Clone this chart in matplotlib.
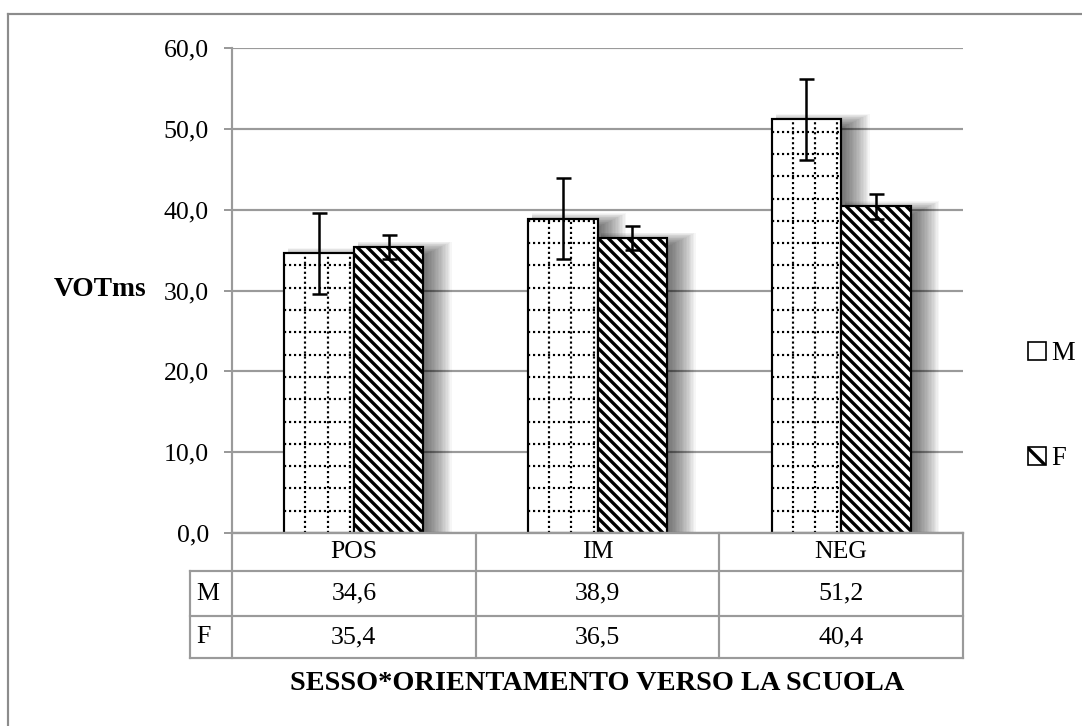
import numpy as np
import matplotlib
matplotlib.use('Agg')
import matplotlib.pyplot as plt
from matplotlib.patches import Patch
from matplotlib.lines import Line2D

categories = ['POS', 'IM', 'NEG']
series = ['M', 'F']
m_values = [34.6, 38.9, 51.2]
f_values = [35.4, 36.5, 40.4]
m_err = [5.0, 5.0, 5.0]
f_err = [1.5, 1.5, 1.5]
yticks = [0, 10, 20, 30, 40, 50, 60]

plt.rcParams['font.family'] = ['Liberation Serif', 'DejaVu Serif']
plt.rcParams['hatch.linewidth'] = 2.0
plt.rcParams['hatch.color'] = 'black'

DPI = 120
fig = plt.figure(figsize=(1082 / DPI, 726 / DPI), dpi=DPI)
ax = fig.add_axes([232 / 1082, 1 - 533 / 726, (963 - 232) / 1082, (533 - 48) / 726])

GRID = '#9a9a9a'
x = np.arange(len(categories))
w = 0.285
ax.set_xlim(-0.5, len(categories) - 0.5)
ax.set_ylim(0, 60)

# pixel -> data conversions
px_x = 1 / 243.67
px_y = 60 / 485

# soft shadow behind bars (stacked translucent layers)
for vals, off in [(m_values, -w / 2), (f_values, w / 2)]:
    for k in range(20):
        grow = k * 1.4
        left = x + off - w / 2 + 4 * px_x
        right = x + off + w / 2 + (2 + grow) * px_x
        tops = np.array(vals) + (-8 + 0.5 * grow) * px_y
        ax.bar((left + right) / 2, tops, width=right - left, color='black',
               alpha=0.034, linewidth=0, zorder=1)

bars_m = ax.bar(x - w / 2, m_values, width=w, facecolor='white',
                edgecolor='black', linewidth=1.3, zorder=2)
bars_f = ax.bar(x + w / 2, f_values, width=w, facecolor='white',
                edgecolor='black', linewidth=1.3, hatch='\\\\\\\\', zorder=2)

# dotted grid pattern inside M bars
sx = 22.3 * px_x
sy = 22.3 * px_y
for b in bars_m:
    x0, h, bw = b.get_x(), b.get_height(), b.get_width()
    xs = np.arange(x0 + 21 * px_x, x0 + bw, sx)
    ys = np.arange(sy, h, sy)
    vl = ax.vlines(xs, 0, h, colors='black', linewidth=1.3,
                   linestyles=(0, (1, 1.3)), zorder=2.5)
    hl = ax.hlines(ys, x0, x0 + bw, colors='black', linewidth=1.3,
                   linestyles=(0, (1, 1.3)), zorder=2.5)
    vl.set_clip_path(b)
    hl.set_clip_path(b)

ax.errorbar(x - w / 2, m_values, yerr=m_err, fmt='none', ecolor='black',
            elinewidth=1.5, capsize=4.5, capthick=1.5, zorder=3)
ax.errorbar(x + w / 2, f_values, yerr=f_err, fmt='none', ecolor='black',
            elinewidth=1.5, capsize=4.5, capthick=1.5, zorder=3)

FS = 15.5
ax.set_yticks(yticks)
ax.set_yticklabels([f'{v:.1f}'.replace('.', ',') for v in yticks], fontsize=FS)
ax.yaxis.grid(True, color=GRID, linewidth=1.3, zorder=0)
ax.set_axisbelow(True)
ax.tick_params(axis='y', direction='out', length=4.8, width=1.2, color=GRID, pad=9)
ax.set_xticks([])
for s in ['top', 'right']:
    ax.spines[s].set_visible(False)
for s in ['left', 'bottom']:
    ax.spines[s].set_color(GRID)
    ax.spines[s].set_linewidth(1.3)

# data table under the axis
ah = 485.0
rows_y = [(533 - y) / ah for y in (533, 571, 616, 658)]
lab_x = (190 - 232) / 731
tkw = dict(transform=ax.transAxes, clip_on=False, color=GRID, linewidth=1.3)
for i, yy in enumerate(rows_y):
    x_start = 0 if i == 0 else lab_x
    ax.add_line(Line2D([x_start, 1], [yy, yy], **tkw))
for j in range(len(categories) + 1):
    xx = j / len(categories)
    ax.add_line(Line2D([xx, xx], [rows_y[0], rows_y[-1]], **tkw))
ax.add_line(Line2D([lab_x, lab_x], [rows_y[1], rows_y[-1]], **tkw))

for j, cat in enumerate(categories):
    cx = (j + 0.5) / len(categories)
    ax.text(cx, (rows_y[0] + rows_y[1]) / 2, cat, transform=ax.transAxes,
            ha='center', va='center', fontsize=FS)
    ax.text(cx, (rows_y[1] + rows_y[2]) / 2, f'{m_values[j]:.1f}'.replace('.', ','),
            transform=ax.transAxes, ha='center', va='center', fontsize=FS)
    ax.text(cx, (rows_y[2] + rows_y[3]) / 2, f'{f_values[j]:.1f}'.replace('.', ','),
            transform=ax.transAxes, ha='center', va='center', fontsize=FS)
for i, s in enumerate(series):
    ax.text(lab_x + 0.008, (rows_y[i + 1] + rows_y[i + 2]) / 2, s,
            transform=ax.transAxes, ha='left', va='center', fontsize=FS)

ax.text(0.5, (533 - 684) / ah, 'SESSO*ORIENTAMENTO VERSO LA SCUOLA',
        transform=ax.transAxes, ha='center', va='center', fontsize=17,
        fontweight='bold')
ax.text((100 - 232) / 731, (533 - 290) / ah, 'VOTms', transform=ax.transAxes,
        ha='center', va='center', fontsize=16.5, fontweight='bold')

handles = [Patch(facecolor='white', edgecolor='black', hatch=':', label='M'),
           Patch(facecolor='white', edgecolor='black', hatch='\\\\', label='F')]
fig.legend(handles=handles, loc='center left', bbox_to_anchor=(1015 / 1082, 1 - 406 / 726),
           frameon=False, fontsize=16, handlelength=0.65, handleheight=0.65,
           handletextpad=0.2, labelspacing=3.0, borderpad=0)

# outer frame of the chart area
fig.add_artist(Line2D([8 / 1082, 1], [1 - 14 / 726, 1 - 14 / 726],
                      transform=fig.transFigure, color='#8c8c8c', linewidth=1.3))
fig.add_artist(Line2D([8 / 1082, 8 / 1082], [0, 1 - 14 / 726],
                      transform=fig.transFigure, color='#8c8c8c', linewidth=1.3))

fig.savefig('out.png', dpi=DPI)
